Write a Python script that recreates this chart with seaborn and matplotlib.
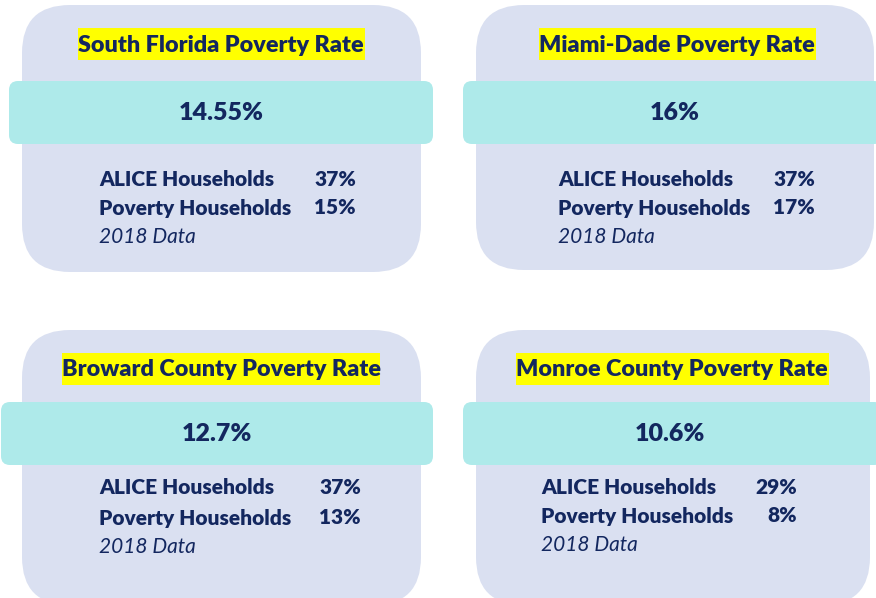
import numpy as np
import matplotlib
matplotlib.use("Agg")
import matplotlib.pyplot as plt
from matplotlib.patches import FancyBboxPatch, Rectangle
import seaborn as sns

sns.set_theme(style="white")
plt.rcParams["font.family"] = ["Lato", "DejaVu Sans"]

# data
titles = ["South Florida Poverty Rate", "Miami-Dade Poverty Rate",
          "Broward County Poverty Rate", "Monroe County Poverty Rate"]
rates = ["14.55%", "16%", "12.7%", "10.6%"]
alice = ["37%", "37%", "37%", "29%"]
poverty = ["15%", "17%", "13%", "8%"]
row_labels = ["ALICE Households", "Poverty Households"]
footnote = "2018 Data"

# layout (pixel coords, y down)
card_x = [22, 476, 22, 476]
card_y = [5, 5, 330, 330]
card_w = [399, 398, 399, 394]
card_h = [267, 265, 275, 275]
band_x = [9, 463, 1, 463]
band_w = [424, 420, 432, 420]
band_y = [81, 81, 402, 402]
hl_x = [78, 539, 62, 516]
hl_w = [287, 277, 318, 313]
hl_y = [28, 28, 353, 353]
title_x = [221, 677, 221, 672]
rate_x = [221, 675, 217, 670]
row_left = [99, 558, 99, 541]
row_right = [356, 815, 361, 797]
row_y = [[179, 208, 237], [179, 208, 237], [488, 518, 547], [488, 516, 545]]

CARD = "#DAE0F1"
BAND = "#AEEAEA"
NAVY = "#13275F"
HILITE = "#FFFF00"

fig = plt.figure(figsize=(8.76, 5.98), dpi=100)
ax = fig.add_axes([0, 0, 1, 1])
ax.set_xlim(0, 876)
ax.set_ylim(598, 0)
ax.axis("off")

for i in range(4):
    ax.add_patch(FancyBboxPatch((card_x[i], card_y[i]), card_w[i], card_h[i],
                                boxstyle="round,pad=0,rounding_size=48",
                                fc=CARD, ec="none"))
    ax.add_patch(FancyBboxPatch((band_x[i], band_y[i]), band_w[i], 63,
                                boxstyle="round,pad=0,rounding_size=9",
                                fc=BAND, ec="none"))
    ax.add_patch(Rectangle((hl_x[i], hl_y[i]), hl_w[i], 32, fc=HILITE, ec="none"))
    ax.text(title_x[i], hl_y[i] + 17, titles[i], ha="center", va="center",
            fontsize=16.8, fontweight="heavy", color=NAVY)
    ax.text(rate_x[i], band_y[i] + 32, rates[i], ha="center", va="center",
            fontsize=18, fontweight="heavy", color=NAVY)
    ys = row_y[i]
    for lab, val, y in zip(row_labels, [alice[i], poverty[i]], ys[:2]):
        ax.text(row_left[i], y, lab, ha="left", va="center",
                fontsize=15, fontweight="heavy", color=NAVY)
        ax.text(row_right[i], y, val, ha="right", va="center",
                fontsize=15, fontweight="heavy", color=NAVY)
    ax.text(row_left[i], ys[2], footnote, ha="left", va="center",
            fontsize=15, fontstyle="italic", color=NAVY)

fig.savefig("out.png", dpi=100)
